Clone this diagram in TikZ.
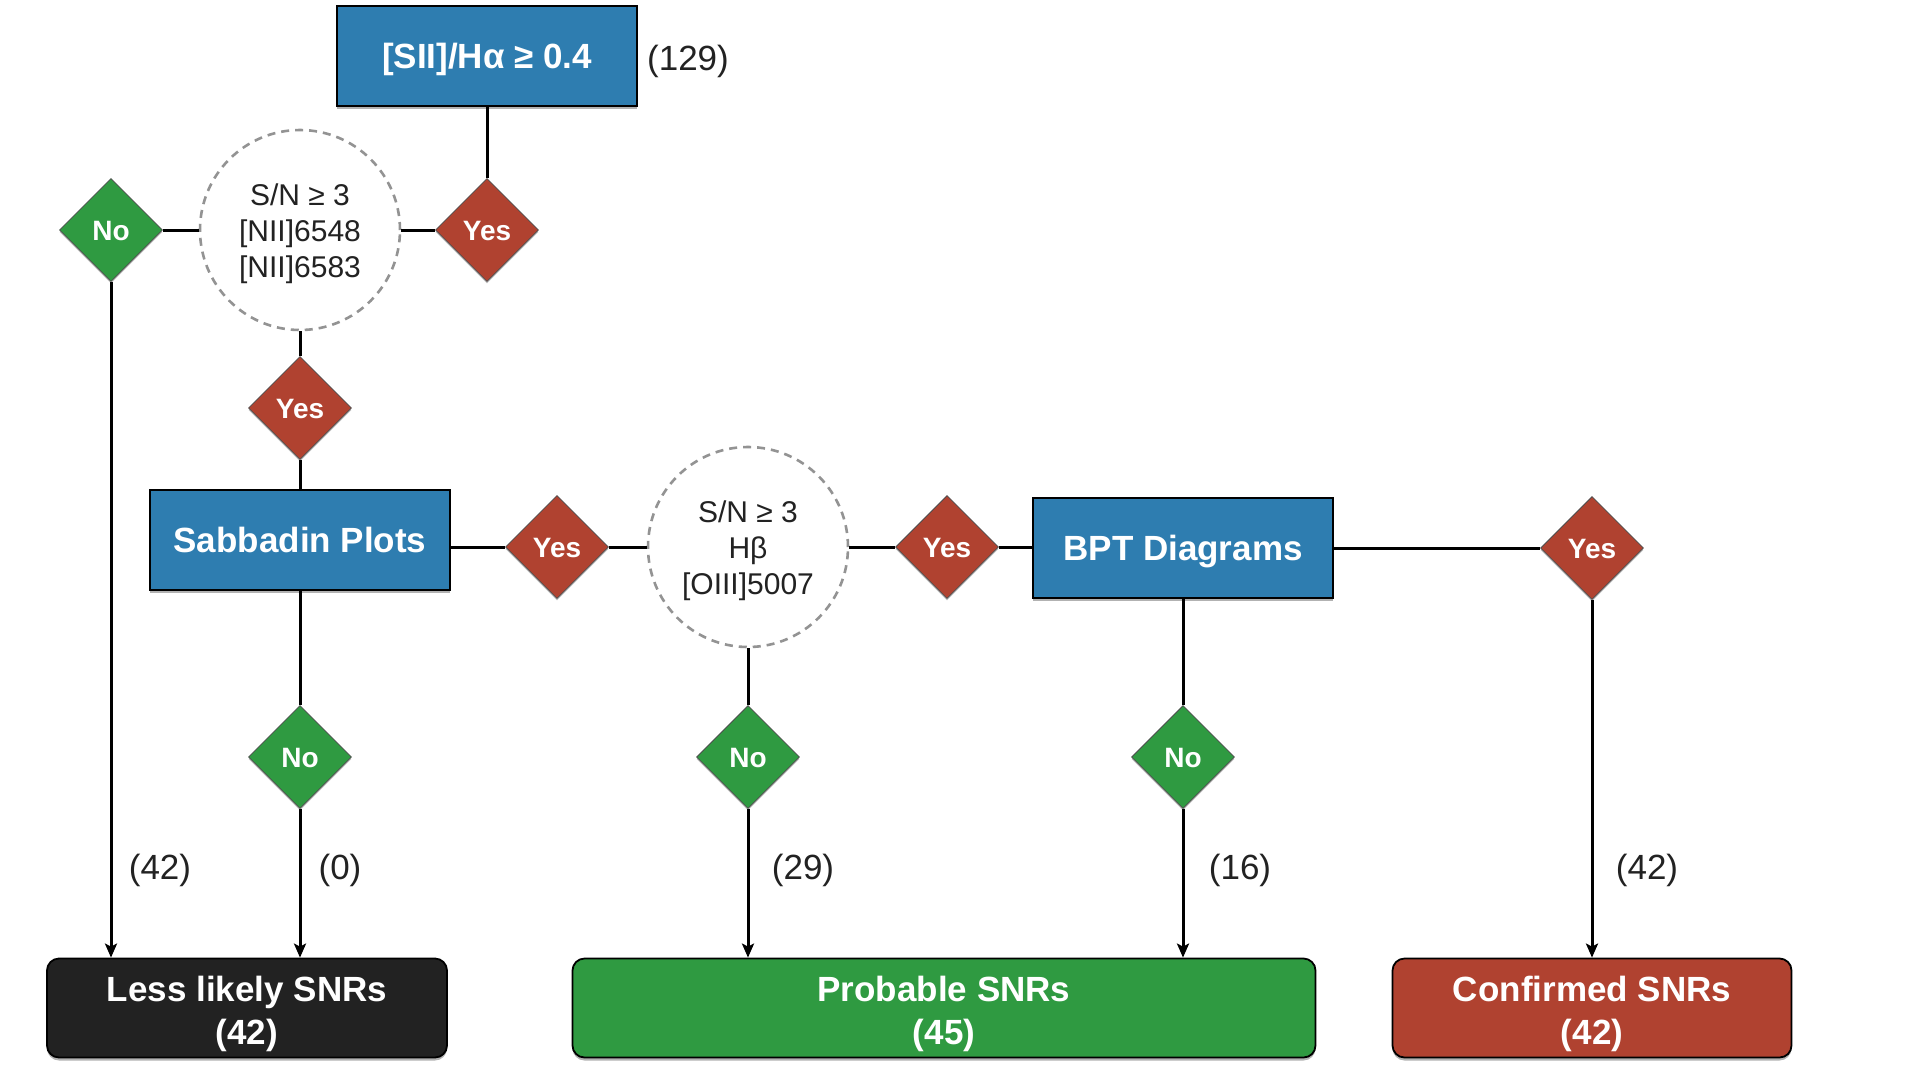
\documentclass[tikz,border=0pt]{standalone}
\usepackage{fontspec}
\setmainfont{Liberation Sans}
\usetikzlibrary{shapes.geometric,arrows.meta,shadows}
\definecolor{boxblue}{RGB}{46,125,176}
\definecolor{dred}{RGB}{176,66,48}
\definecolor{dgreen}{RGB}{47,154,65}
\definecolor{dblack}{RGB}{34,34,34}
\begin{document}
\begin{tikzpicture}[x=1pt,y=-1pt,
  conn/.style={line width=3pt},
  arr/.style={conn,-{Stealth[length=14pt,width=12pt,inset=3pt]}},
  shad/.style={drop shadow={shadow xshift=0pt,shadow yshift=-3pt,opacity=0.3,fill=black}},
  bluebox/.style={rectangle,draw=black,line width=1.8pt,fill=boxblue,text=white,
    font=\fontsize{35}{42}\selectfont\bfseries,minimum width=300pt,minimum height=100pt,inner sep=0pt,
    text height=25pt,text depth=0pt,shad},
  yesd/.style={diamond,draw=black!70,line width=0.8pt,fill=dred,text=white,
    font=\fontsize{28}{34}\selectfont\bfseries,minimum width=103pt,minimum height=103pt,inner sep=0pt,
    text height=20pt,text depth=0pt,
    drop shadow={shadow xshift=0pt,shadow yshift=-2pt,opacity=0.25,fill=black}},
  nod/.style={yesd,fill=dgreen},
  check/.style={circle,draw=gray!85,dash pattern=on 8pt off 6pt,line width=2.6pt,minimum size=200pt,
    inner sep=0pt},
  checktext/.style={align=center,text=dblack,font=\fontsize{30}{36}\selectfont,yshift=-4pt},
  count/.style={font=\fontsize{35}{42}\selectfont,text=dblack},
  endbox/.style={rectangle,rounded corners=12pt,draw=black,line width=1.8pt,
    minimum height=99pt,inner sep=0pt,shad},
  endtext/.style={align=center,text=white,font=\fontsize{35}{43}\selectfont\bfseries,yshift=-6pt}
]
\useasboundingbox (0,0) rectangle (1920,1080);
\fill[white] (0,0) rectangle (1920,1080);

% nodes
\node[bluebox] (top) at (487,56) {[SII]/Hα ≥ 0.4};
\node[count] (n129) at (688,61) {(129)};
\node[yesd] (yes1) at (487,230) {Yes};
\node[check,label={[checktext]center:S/N ≥ 3\\{}[NII]6548\\{}[NII]6583}] (c1) at (300,230) {};
\node[nod] (no1) at (111,230) {No};
\node[yesd] (yes2) at (300,408) {Yes};
\node[bluebox] (sab) at (300,540) {Sabbadin Plots};
\node[yesd] (yes3) at (557,547) {Yes};
\node[check,label={[checktext]center:S/N ≥ 3\\Hβ\\{}[OIII]5007}] (c2) at (748,547) {};
\node[yesd] (yes4) at (947,547) {Yes};
\node[bluebox] (bpt) at (1183,548) {BPT Diagrams};
\node[yesd] (yes5) at (1592,548) {Yes};
\node[nod] (no2) at (300,757) {No};
\node[nod] (no3) at (748,757) {No};
\node[nod] (no4) at (1183,757) {No};

\node[endbox,fill=dblack,minimum width=400pt,label={[endtext]center:Less likely SNRs\\(42)}] (less) at (247,1008) {};
\node[endbox,fill=dgreen,minimum width=743pt,label={[endtext]center:Probable SNRs\\(45)}] (prob) at (944,1008) {};
\node[endbox,fill=dred,minimum width=399pt,label={[endtext]center:Confirmed SNRs\\(42)}] (conf) at (1592,1008) {};

\node[count] (l1) at (160,870) {(42)};
\node[count] (l2) at (340,870) {(0)};
\node[count] (l3) at (803,870) {(29)};
\node[count] (l4) at (1240,870) {(16)};
\node[count] (l5) at (1647,870) {(42)};

% connectors
\draw[conn] (top) -- (yes1);
\draw[conn] (yes1) -- (c1);
\draw[conn] (c1) -- (no1);
\draw[conn] (c1) -- (yes2);
\draw[conn] (yes2) -- (sab);
\draw[conn] (yes3.west) -- (yes3.west -| sab.east);
\draw[conn] (yes3) -- (c2);
\draw[conn] (c2) -- (yes4);
\draw[conn] (yes4.east) -- (yes4.east -| bpt.west);
\draw[conn] (bpt) -- (yes5);
\draw[conn] (sab) -- (no2);
\draw[conn] (c2) -- (no3);
\draw[conn] (bpt) -- (no4);

\draw[arr] (no1) -- (no1 |- less.north);
\draw[arr] (no2) -- (no2 |- less.north);
\draw[arr] (no3) -- (no3 |- prob.north);
\draw[arr] (no4) -- (no4 |- prob.north);
\draw[arr] (yes5) -- (yes5 |- conf.north);
\end{tikzpicture}
\end{document}
